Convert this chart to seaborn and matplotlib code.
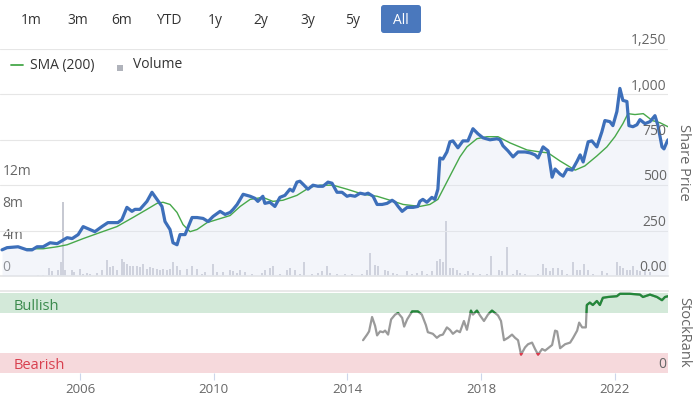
import numpy as np
import pandas as pd
import seaborn as sns
import matplotlib.pyplot as plt
from matplotlib.lines import Line2D
from matplotlib.patches import Rectangle, FancyBboxPatch
from matplotlib.transforms import blended_transform_factory

# ---- data ----
price_years = [2003.66, 2003.81, 2004.14, 2004.41, 2004.56, 2004.71, 2004.89, 2005.10, 2005.31, 2005.61,
               2005.76, 2005.94, 2006.09, 2006.23, 2006.44, 2006.65, 2006.83, 2007.13, 2007.25, 2007.40,
               2007.55, 2007.64, 2007.79, 2008.00, 2008.15, 2008.30, 2008.45, 2008.54, 2008.69, 2008.78,
               2008.90, 2008.99, 2009.14, 2009.35, 2009.50, 2009.68, 2009.83, 2009.98, 2010.19, 2010.34,
               2010.49, 2010.58, 2010.70, 2010.88, 2011.09, 2011.23, 2011.32, 2011.47, 2011.53, 2011.68,
               2011.83, 2011.98, 2012.13, 2012.28, 2012.37, 2012.49, 2012.58, 2012.67, 2012.82, 2012.97,
               2013.12, 2013.27, 2013.42, 2013.54, 2013.69, 2013.84, 2013.99, 2014.08, 2014.23, 2014.38,
               2014.53, 2014.62, 2014.77, 2014.89, 2015.04, 2015.19, 2015.34, 2015.43, 2015.52, 2015.64,
               2015.79, 2015.97, 2016.11, 2016.17, 2016.26, 2016.38, 2016.53, 2016.62, 2016.71, 2016.77,
               2016.86, 2016.98, 2017.07, 2017.16, 2017.31, 2017.46, 2017.61, 2017.76, 2017.91, 2018.06,
               2018.27, 2018.48, 2018.57, 2018.66, 2018.81, 2018.96, 2019.11, 2019.32, 2019.47, 2019.62,
               2019.71, 2019.86, 2020.01, 2020.13, 2020.22, 2020.37, 2020.46, 2020.58, 2020.73, 2020.88,
               2020.97, 2021.06, 2021.21, 2021.32, 2021.47, 2021.62, 2021.71, 2021.86, 2021.95, 2022.07,
               2022.16, 2022.25, 2022.37, 2022.43, 2022.55, 2022.67, 2022.76, 2022.91, 2023.06, 2023.21,
               2023.30, 2023.42, 2023.48, 2023.57, 2023.60]
price_values = [144, 156, 161, 144, 144, 161, 161, 183, 178, 211,
                206, 228, 272, 261, 244, 272, 294, 294, 311, 378,
                356, 367, 367, 411, 461, 422, 383, 300, 256, 183,
                172, 228, 228, 322, 322, 317, 300, 328, 356, 339,
                350, 367, 394, 450, 439, 428, 411, 439, 400, 406,
                383, 433, 444, 478, 467, 517, 522, 506, 478, 500,
                494, 494, 517, 511, 461, 461, 439, 444, 439, 456,
                450, 456, 439, 394, 394, 400, 417, 406, 383, 356,
                378, 378, 383, 411, 422, 406, 433, 422, 478, 650,
                644, 683, 739, 744, 706, 744, 744, 811, 783, 761,
                750, 756, 750, 717, 689, 656, 683, 683, 678, 667,
                650, 711, 689, 544, 589, 561, 550, 589, 583, 633,
                667, 628, 739, 744, 711, 794, 856, 850, 828, 906,
                1033, 967, 961, 828, 822, 833, 861, 839, 850, 883,
                828, 711, 700, 739, 750]

sma_years = [2004.41, 2004.89, 2005.31, 2005.61, 2006.09, 2006.59, 2007.10, 2007.58, 2008.00, 2008.30,
             2008.48, 2008.69, 2008.90, 2009.08, 2009.29, 2009.50, 2009.80, 2010.10, 2010.49, 2010.79,
             2011.09, 2011.47, 2011.77, 2012.07, 2012.49, 2012.88, 2013.18, 2013.57, 2013.99, 2014.47,
             2014.89, 2015.28, 2015.67, 2016.17, 2016.47, 2016.71, 2017.07, 2017.37, 2017.58, 2017.88,
             2018.18, 2018.51, 2018.87, 2019.38, 2019.77, 2020.01, 2020.37, 2020.82, 2021.11, 2021.47,
             2021.77, 2022.01, 2022.25, 2022.40, 2022.61, 2022.86, 2023.13, 2023.36, 2023.60]
sma_values = [150, 150, 161, 172, 206, 239, 272, 322, 367, 400,
              406, 394, 350, 283, 244, 256, 294, 311, 333, 383,
              422, 433, 411, 417, 444, 489, 500, 500, 478, 450,
              439, 417, 394, 383, 394, 422, 550, 656, 711, 756,
              767, 767, 733, 694, 683, 678, 633, 583, 606, 661,
              711, 767, 839, 894, 889, 894, 856, 844, 822]

vol_years = [2004.74, 2004.89, 2005.07, 2005.16, 2005.34, 2005.43, 2005.49, 2005.55, 2005.76, 2005.82,
             2006.00, 2006.09, 2006.20, 2006.29, 2006.50, 2006.65, 2006.80, 2006.89, 2006.98, 2007.10,
             2007.25, 2007.31, 2007.40, 2007.49, 2007.58, 2007.70, 2007.79, 2007.88, 2008.00, 2008.09,
             2008.18, 2008.30, 2008.39, 2008.48, 2008.60, 2008.69, 2008.78, 2008.90, 2008.99, 2009.20,
             2009.35, 2009.50, 2009.65, 2009.74, 2009.98, 2010.10, 2010.28, 2010.49, 2010.58, 2010.70,
             2010.79, 2010.94, 2011.14, 2011.44, 2011.53, 2011.68, 2011.77, 2011.98, 2012.19, 2012.28,
             2012.43, 2012.58, 2012.70, 2012.94, 2013.12, 2013.24, 2013.39, 2013.48, 2013.69, 2013.93,
             2014.14, 2014.44, 2014.59, 2014.68, 2014.83, 2014.92, 2015.13, 2015.22, 2015.37, 2015.49,
             2015.79, 2015.94, 2016.09, 2016.23, 2016.38, 2016.53, 2016.68, 2016.77, 2016.86, 2016.95,
             2017.07, 2017.16, 2017.28, 2017.37, 2017.52, 2017.61, 2017.76, 2017.97, 2018.18, 2018.30,
             2018.54, 2018.63, 2018.78, 2018.96, 2019.08, 2019.17, 2019.32, 2019.71, 2019.86, 2019.95,
             2020.07, 2020.16, 2020.31, 2020.43, 2020.58, 2020.76, 2020.88, 2020.97, 2021.09, 2021.20,
             2021.35, 2021.62, 2021.77, 2022.07, 2022.16, 2022.25, 2022.37, 2022.46, 2022.55, 2022.67,
             2022.76, 2022.91, 2023.06]
vol_millions = [0.15, 0.15, 1.0, 0.6, 0.7, 1.8, 9.3, 0.7, 0.8, 0.5,
                0.9, 0.3, 0.4, 0.3, 0.4, 0.7, 1.95, 1.1, 1.3, 0.7,
                2.1, 1.75, 1.5, 1.25, 1.3, 1.2, 1.1, 1.5, 0.9, 1.1,
                1.0, 0.9, 0.8, 0.85, 0.7, 0.9, 1.75, 1.3, 0.7, 0.9,
                1.3, 0.9, 0.3, 0.5, 1.5, 0.5, 0.5, 0.7, 0.6, 0.4,
                0.7, 0.55, 0.3, 0.4, 0.7, 1.0, 1.25, 0.2, 0.7, 0.95,
                0.7, 0.3, 1.8, 0.3, 0.4, 0.6, 1.3, 0.4, 0.3, 0.3,
                0.2, 0.2, 0.7, 2.9, 1.4, 1.25, 0.7, 0.6, 0.4, 0.3,
                0.6, 0.3, 0.4, 0.6, 0.3, 0.6, 1.9, 2.1, 1.7, 6.9,
                1.0, 0.95, 0.7, 0.4, 0.3, 0.6, 0.4, 0.3, 0.3, 2.5,
                0.8, 0.6, 3.6, 0.3, 0.7, 0.4, 0.3, 0.3, 1.5, 1.0,
                0.6, 1.0, 1.0, 0.8, 0.3, 1.8, 0.7, 0.8, 1.5, 0.8,
                0.3, 0.6, 0.4, 1.7, 1.25, 1.0, 0.8, 0.7, 1.25, 0.8,
                0.6, 0.6, 0.5]

rank_years = [2014.47, 2014.59, 2014.65, 2014.74, 2014.83, 2014.89, 2014.98, 2015.07, 2015.13, 2015.22,
              2015.31, 2015.43, 2015.52, 2015.64, 2015.70, 2015.79, 2015.94, 2016.11, 2016.23, 2016.35,
              2016.41, 2016.56, 2016.68, 2016.77, 2016.86, 2016.98, 2017.07, 2017.16, 2017.28, 2017.37,
              2017.49, 2017.58, 2017.70, 2017.76, 2017.88, 2017.97, 2018.09, 2018.21, 2018.33, 2018.42,
              2018.51, 2018.60, 2018.69, 2018.81, 2018.93, 2019.02, 2019.11, 2019.20, 2019.32, 2019.41,
              2019.53, 2019.62, 2019.71, 2019.83, 2019.92, 2020.01, 2020.13, 2020.22, 2020.28, 2020.37,
              2020.52, 2020.67, 2020.76, 2020.88, 2020.94, 2021.03, 2021.14, 2021.17, 2021.26, 2021.35,
              2021.47, 2021.56, 2021.65, 2021.80, 2022.07, 2022.16, 2022.46, 2022.76, 2022.85, 2023.06,
              2023.27, 2023.42, 2023.51, 2023.60]
rank_values = [41, 48, 52, 70, 59, 47, 52, 51, 53, 48,
               67, 73, 75, 69, 58, 67, 77, 77, 73, 60,
               51, 49, 44, 47, 48, 57, 54, 49, 53, 51,
               65, 54, 78, 73, 78, 72, 65, 73, 78, 75,
               72, 65, 41, 44, 48, 44, 41, 23, 32, 36,
               38, 30, 23, 30, 28, 31, 35, 53, 52, 31,
               36, 38, 44, 53, 63, 57, 57, 85, 88, 85,
               90, 85, 94, 95, 96, 99, 99, 98, 95, 98,
               95, 91, 95, 96]

price_ticks = [0, 250, 500, 750, 1000, 1250]
price_tick_labels = ["0.00", "250", "500", "750", "1,000", "1,250"]
vol_ticks = [0, 4, 8, 12]
vol_tick_labels = ["0", "4m", "8m", "12m"]
year_ticks = [2006, 2010, 2014, 2018, 2022]
range_buttons = ["1m", "3m", "6m", "YTD", "1y", "2y", "3y", "5y", "All"]
bullish_from = 75
bearish_to = 25

price_df = pd.DataFrame({"year": price_years, "price": price_values})
sma_df = pd.DataFrame({"year": sma_years, "sma": sma_values})
rank_df = pd.DataFrame({"year": rank_years, "rank": rank_values})

## style
sns.set_theme(style="white")
plt.rcParams["font.family"] = ["Open Sans", "DejaVu Sans"]

BLUE = "#3d6fba"
GREEN = "#47a84a"
GRID = "#e6e6e6"
LABEL = "#666666"
TEXT = "#333333"

W, H = 698, 398
def px_box(l, t, r, b):
    return [l / W, 1 - b / H, (r - l) / W, (b - t) / H]

fig = plt.figure(figsize=(W / 100, H / 100), dpi=100)
x_min, x_max = 2003.6, 2023.6

## Main panel: volume underneath, price on top
ax_vol = fig.add_axes(px_box(0, 49, 668, 276))
ax = ax_vol.twinx()

ax_vol.bar(vol_years, vol_millions, width=0.07, color="#c7c9d2", linewidth=0)
ax_vol.set_ylim(0, 227 / 8)
ax_vol.set_xlim(x_min, x_max)

ax.fill_between(price_df["year"], price_df["price"], 0, color="#dfe5f3", alpha=0.35, linewidth=0)
sns.lineplot(data=sma_df, x="year", y="sma", ax=ax, color=GREEN, linewidth=1.0,
             estimator=None, sort=False)
sns.lineplot(data=price_df, x="year", y="price", ax=ax, color=BLUE, linewidth=2.3,
             estimator=None, sort=False, solid_joinstyle="round")
ax.set_ylim(0, 1250)
ax.set_xlim(x_min, x_max)
ax.set_yticks(price_ticks)
ax.yaxis.grid(True, color=GRID, linewidth=0.8)
ax.set_axisbelow(True)

for a in (ax, ax_vol):
    a.set_xlabel("")
    a.set_ylabel("")
    a.set_xticks([])
    a.tick_params(left=False, right=False, labelleft=False, labelright=False)
    for s in a.spines.values():
        s.set_visible(False)
ax_vol.spines["bottom"].set_visible(True)
ax_vol.spines["bottom"].set_color(GRID)

tr_price = blended_transform_factory(ax.transAxes, ax.transData)
for v, lab in zip(price_ticks, price_tick_labels):
    ax.text(0.998, v + 4, lab, transform=tr_price, ha="right", va="bottom",
            fontsize=10, color=LABEL)

tr_vol = blended_transform_factory(ax_vol.transAxes, ax_vol.transData)
for v, lab in zip(vol_ticks, vol_tick_labels):
    ax_vol.text(0.004, v + 0.15, lab, transform=tr_vol, ha="left", va="bottom",
                fontsize=10, color=LABEL)

fig.text(684 / W, 1 - 162 / H, "Share Price", rotation=270, ha="center", va="center",
         fontsize=10.5, color=LABEL)

## StockRank panel
ax_rank = fig.add_axes(px_box(0, 291, 668, 373))
ax_rank.axhspan(bullish_from, 100, color="#d3e9d9", linewidth=0)
ax_rank.axhspan(0, bearish_to, color="#f6d9dc", linewidth=0)

sns.lineplot(data=rank_df, x="year", y="rank", ax=ax_rank, color="#9a9a9a", linewidth=1.6,
             estimator=None, sort=False)
for lo, hi, col in [(bullish_from, 101, "#23883a"), (-1, bearish_to, "#e0384b")]:
    sns.lineplot(data=rank_df, x="year", y="rank", ax=ax_rank, color=col, linewidth=1.6,
                 estimator=None, sort=False)
    clip = Rectangle((x_min, lo), x_max - x_min, hi - lo, transform=ax_rank.transData)
    ax_rank.lines[-1].set_clip_path(clip)

ax_rank.set_xlim(x_min, x_max)
ax_rank.set_ylim(0, 102.5)
ax_rank.set_xlabel("")
ax_rank.set_ylabel("")
ax_rank.set_yticks([])
ax_rank.set_xticks(year_ticks)
ax_rank.set_xticklabels([str(y) for y in year_ticks])
ax_rank.tick_params(axis="x", bottom=True, length=5, width=0.8, color="#ccd6eb",
                    labelsize=9.5, labelcolor=LABEL, pad=2.5)
for name, s in ax_rank.spines.items():
    s.set_visible(name == "top")
ax_rank.spines["top"].set_color(GRID)

tr_rank = blended_transform_factory(ax_rank.transAxes, ax_rank.transData)
ax_rank.text(0.021, 83, "Bullish", transform=tr_rank, ha="left", va="center",
             fontsize=10.5, color="#3a8a4c")
ax_rank.text(0.021, 9, "Bearish", transform=tr_rank, ha="left", va="center",
             fontsize=10.5, color="#d8404f")
ax_rank.text(0.998, 1, "0", transform=tr_rank, ha="right", va="bottom",
             fontsize=10, color=LABEL)

fig.text(684 / W, 1 - 332 / H, "StockRank", rotation=270, ha="center", va="center",
         fontsize=10.5, color=LABEL)

## range selector buttons
btn_x = [31, 78, 122, 169, 215, 261, 308, 353, 401]
fig.add_artist(FancyBboxPatch((381 / W, 1 - 33 / H), 40 / W, 28 / H,
                              boxstyle="round,pad=0,rounding_size=0.004",
                              mutation_aspect=W / H, transform=fig.transFigure,
                              facecolor="#4a78bd", edgecolor="none"))
for bx, lab in zip(btn_x, range_buttons):
    fig.text(bx / W, 1 - 20 / H, lab, ha="center", va="center", fontsize=10,
             color="white" if lab == "All" else TEXT)

## legend
fig.add_artist(Line2D([11 / W, 23 / W], [1 - 65 / H] * 2, color=GREEN, linewidth=1.3,
                      transform=fig.transFigure))
fig.text(30 / W, 1 - 65 / H, "SMA (200)", ha="left", va="center", fontsize=10, color=TEXT)
fig.add_artist(Rectangle((117 / W, 1 - 71 / H), 6 / W, 6 / H, transform=fig.transFigure,
                         facecolor="#b0b3bb", edgecolor="none"))
fig.text(133 / W, 1 - 65 / H, "Volume", ha="left", va="center", fontsize=10, color=TEXT)

fig.savefig("out.png", dpi=100)
